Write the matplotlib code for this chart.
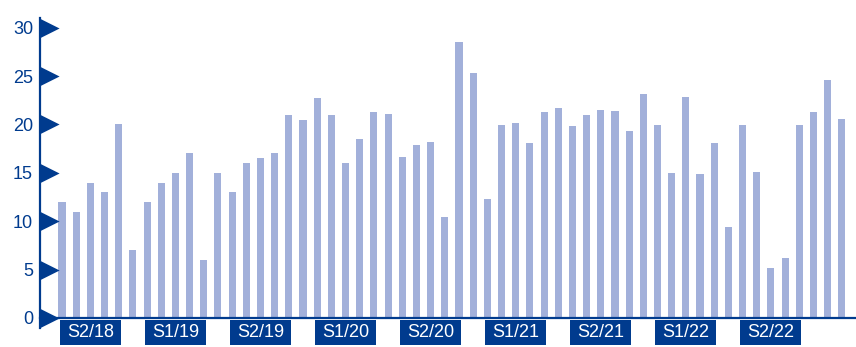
import numpy as np
import matplotlib
matplotlib.use("Agg")
import matplotlib.pyplot as plt
from matplotlib.path import Path
from matplotlib.patches import Rectangle
from matplotlib.transforms import blended_transform_factory

plt.rcParams['font.family'] = ['Liberation Sans', 'DejaVu Sans']

# monthly values, one bar per month
values = [12, 11, 14, 13, 20, 7,
          12, 14, 15, 17, 6, 15,
          13, 16, 16.5, 17, 21, 20.5,
          22.7, 21, 16, 18.5, 21.3, 21.1,
          16.6, 17.9, 18.2, 10.4, 28.5, 25.3,
          12.3, 19.9, 20.1, 18.1, 21.3, 21.7,
          19.8, 21, 21.5, 21.4, 19.3, 23.1,
          19.9, 15, 22.8, 14.9, 18.1, 9.4,
          19.9, 15.1, 5.2, 6.2, 19.9, 21.3,
          24.6, 20.6]
semesters = ["S2/18", "S1/19", "S2/19", "S1/20", "S2/20",
             "S1/21", "S2/21", "S1/22", "S2/22"]
yticks = [0, 5, 10, 15, 20, 25, 30]

dark = "#003b8e"
bar_col = "#a2b0da"

W, H = 856, 347
fig = plt.figure(figsize=(W / 100, H / 100), dpi=100)
# axes box in pixels: left 40, right 856, top 18, bottom 318
ax = fig.add_axes([40 / W, 1 - 318 / H, (W - 40) / W, 300 / H])

x = np.arange(len(values))
ax.bar(x, values, width=0.5, color=bar_col, zorder=2)

xmin, xmax = -1.55, 56.0
ax.set_xlim(xmin, xmax)
ax.set_ylim(0, 31)

for s in ["top", "right", "left"]:
    ax.spines[s].set_visible(False)
ax.spines["bottom"].set_color(dark)
ax.spines["bottom"].set_linewidth(1.6)
ax.spines["bottom"].set_zorder(3)

# vertical axis line running a little below zero
ax.plot([xmin, xmin], [-1.05, 31], color=dark, lw=1.6, clip_on=False, zorder=4)

# flag markers at each tick
flag = Path([(0, -1), (0, 1), (2, 0), (0, -1)],
            [Path.MOVETO, Path.LINETO, Path.LINETO, Path.CLOSEPOLY])
ax.plot([xmin] * len(yticks), yticks, linestyle="none", marker=flag,
        markersize=27.5, color=dark, markeredgewidth=0, clip_on=False, zorder=5)

ax.set_yticks(yticks)
ax.set_yticklabels([str(t) for t in yticks], color=dark, fontsize=13)
ax.tick_params(axis="y", length=0, pad=5)
ax.set_xticks([])

# semester labels in boxes under the axis
trans = blended_transform_factory(ax.transData, ax.transAxes)
box_w = 4.3
for k, lab in enumerate(semesters):
    c = 2 + 6 * k
    ax.add_patch(Rectangle((c - box_w / 2, -0.09), box_w, 0.083, transform=trans,
                           facecolor=dark, edgecolor="none", clip_on=False, zorder=3))
    ax.text(c, -0.049, lab, transform=trans, ha="center", va="center",
            color="white", fontsize=13, zorder=4)

fig.savefig("out.png", dpi=100)
